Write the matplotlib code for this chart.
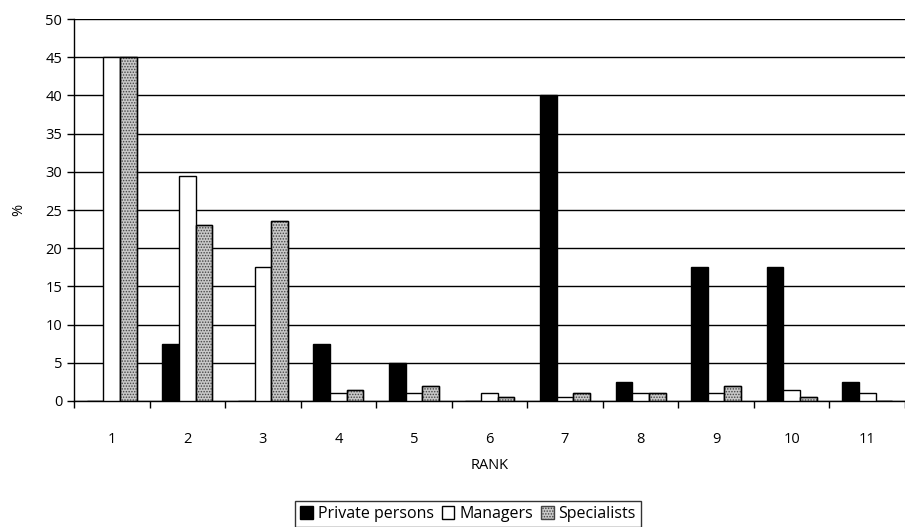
import numpy as np
import matplotlib.pyplot as plt

plt.rcParams['font.family'] = ['Open Sans', 'DejaVu Sans']
plt.rcParams['hatch.linewidth'] = 0.7

ranks = ['1', '2', '3', '4', '5', '6', '7', '8', '9', '10', '11']
private_persons = [0, 7.5, 0, 7.5, 5, 0, 40, 2.5, 17.5, 17.5, 2.5]
managers = [45, 29.5, 17.5, 1, 1, 1, 0.5, 1, 1, 1.5, 1]
specialists = [45, 23, 23.5, 1.5, 2, 0.5, 1, 1, 2, 0.5, 0]

fig = plt.figure(figsize=(9.05, 5.27), dpi=100)
ax = fig.add_axes([74/905, 126/527, 831/905, 382/527])

x = np.arange(len(ranks))
w = 0.22
ax.bar(x - w, private_persons, w, color='black', edgecolor='black', linewidth=1, label='Private persons', zorder=3)
ax.bar(x, managers, w, color='white', edgecolor='black', linewidth=1, label='Managers', zorder=3)
ax.bar(x + w, specialists, w, color='#c8c8c8', edgecolor='#444444', hatch='......', linewidth=1, label='Specialists', zorder=3)
# black outline on top of the hatched bars
ax.bar(x + w, specialists, w, color='none', edgecolor='black', linewidth=1, zorder=4)

ax.set_ylim(0, 50)
ax.set_xlim(-0.5, 10.38)
ax.set_yticks(np.arange(0, 51, 5))
ax.yaxis.grid(True, color='black', linewidth=1)
ax.set_axisbelow(True)

ax.set_xticks(x)
ax.set_xticklabels(ranks)
ax.set_xticks(np.arange(-0.5, 11, 1), minor=True)
ax.tick_params(axis='x', which='major', length=0, labelsize=10.5, pad=22)
ax.tick_params(axis='x', which='minor', length=5, width=1)
ax.tick_params(axis='y', length=5, width=1, labelsize=10.5)

for s in ['top', 'right']:
    ax.spines[s].set_visible(False)
ax.spines['left'].set_linewidth(1)
ax.spines['bottom'].set_linewidth(1)

ax.set_xlabel('RANK', fontsize=10.5, labelpad=8)
ax.set_ylabel('%', fontsize=10.5, labelpad=14)

leg = fig.legend(loc='center', bbox_to_anchor=(468/905, 1 - 514/527), ncol=3,
                 frameon=True, fancybox=False, edgecolor='black', fontsize=11.5,
                 handlelength=0.8, handleheight=0.8, handletextpad=0.3,
                 columnspacing=0.5, borderpad=0.3)
leg.get_frame().set_linewidth(1)

fig.savefig('out.png', dpi=100)
